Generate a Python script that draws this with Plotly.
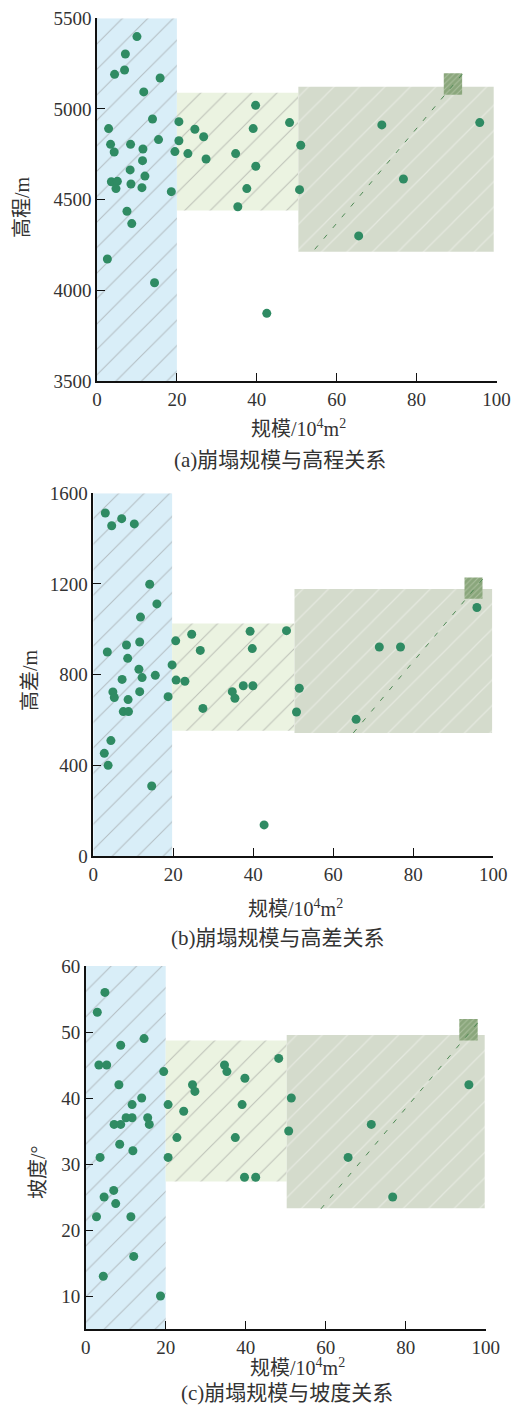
import plotly.graph_objects as go

W, H = 520, 1407

# ---------------- data ----------------
a_x = [10.0, 7.1, 6.9, 4.4, 15.8, 11.7, 13.9, 2.9, 3.4, 4.3, 8.4, 11.5, 15.4, 11.4, 8.3, 12.0, 3.6, 5.1, 4.75, 8.5,
       11.25, 18.6, 7.5, 8.7, 2.6, 14.4, 20.5, 20.5, 19.5, 24.5, 26.7, 22.75, 27.3, 34.7, 39.7, 39.1, 39.75, 37.5,
       35.25, 48.2, 51.0, 50.7, 71.3, 76.7, 65.5, 95.8, 42.5]
a_y = [5399, 5303, 5215, 5191, 5171, 5094, 4945, 4892, 4805, 4763, 4805, 4779, 4831, 4715, 4664, 4630, 4599, 4601,
       4561, 4586, 4566, 4544, 4436, 4368, 4173, 4042, 4930, 4825, 4765, 4888, 4847, 4754, 4724, 4754, 5020, 4892,
       4684, 4561, 4461, 4925, 4800, 4555, 4912, 4614, 4300, 4925, 3873]

b_x = [3.0, 4.6, 7.1, 10.25, 14.1, 15.9, 11.8, 3.5, 8.3, 11.6, 8.6, 11.4, 12.2, 15.5, 7.2, 4.9, 5.25, 8.7, 11.6, 7.5,
       8.8, 18.7, 4.4, 2.75, 3.7, 14.6, 19.7, 20.6, 20.7, 22.9, 24.6, 26.75, 27.4, 34.75, 35.4, 37.5, 39.2, 39.75,
       39.9, 48.3, 51.5, 50.8, 65.7, 71.5, 76.8, 95.9, 42.7]
b_y = [1513, 1457, 1488, 1465, 1199, 1112, 1054, 900, 931, 944, 872, 824, 787, 797, 779, 724, 699, 690, 725, 637,
       637, 703, 509, 453, 400, 309, 843, 949, 776, 771, 978, 907, 651, 725, 696, 751, 991, 915, 751, 994, 740, 635,
       603, 922, 922, 1096, 137]

c_x = [4.8, 2.9, 14.6, 8.75, 3.3, 5.25, 19.5, 8.3, 14.0, 11.6, 10.1, 11.6, 15.5, 7.1, 8.75, 15.9, 8.5, 11.8, 3.6,
       7.0, 4.6, 7.5, 2.7, 11.3, 12.0, 4.4, 18.7, 20.6, 20.6, 22.8, 24.5, 26.7, 27.3, 34.7, 35.3, 37.4, 39.8, 39.1,
       39.7, 42.5, 48.25, 51.4, 50.75, 65.6, 71.4, 76.75, 95.8]
c_y = [56, 53, 49, 48, 45, 45, 44, 42, 40, 39, 37, 37, 37, 36, 36, 36, 33, 32, 31, 26, 25, 24, 22, 22, 16, 13, 10,
       39, 31, 34, 38, 42, 41, 45, 44, 34, 43, 39, 28, 28, 46, 40, 35, 31, 36, 25, 42]

# zones: [x0, x1, y0, y1]
a_zones = [[0, 20, 3500, 5500], [20, 50.4, 4440, 5090], [50.4, 99.3, 4213, 5123], [86.8, 91.4, 5079, 5197]]
a_trend = [[54.5, 91.75], [4226, 5200]]
b_zones = [[0, 19.7, 0, 1600], [19.7, 50.3, 553, 1026], [50.3, 99.7, 543, 1178], [92.8, 97.3, 1135, 1229]]
b_trend = [[65.0, 97.7], [543, 1229]]
c_zones = [[0, 20, 5, 60], [20, 50.25, 27.35, 48.7], [50.25, 99.75, 23.3, 49.56], [93.4, 98.0, 48.7, 51.97]]
c_trend = [[58.8, 99.0], [23.2, 52.1]]

x_ticks = [0, 20, 40, 60, 80, 100]
a_yticks = [3500, 4000, 4500, 5000, 5500]
b_yticks = [0, 400, 800, 1200, 1600]
c_yticks = [10, 20, 30, 40, 50, 60]

panels = [
    dict(x=a_x, y=a_y, zones=a_zones, trend=a_trend, yr=[3500, 5500], yt=a_yticks,
         px=(97, 496.5), py=(18.3, 381),
         ytitle="高程/m", ytpos=(22, 207), xtpos=(298, 428), cap="(a)崩塌规模与高程关系", cappos=(280, 460)),
    dict(x=b_x, y=b_y, zones=b_zones, trend=b_trend, yr=[0, 1600], yt=b_yticks,
         px=(93.3, 493.3), py=(493.3, 856),
         ytitle="高差/m", ytpos=(30, 680), xtpos=(295, 908), cap="(b)崩塌规模与高差关系", cappos=(278, 938)),
    dict(x=c_x, y=c_y, zones=c_zones, trend=c_trend, yr=[5, 60], yt=c_yticks,
         px=(85.7, 485.7), py=(966, 1329),
         ytitle="坡度/°", ytpos=(38, 1172), xtpos=(297, 1367), cap="(c)崩塌规模与坡度关系", cappos=(287, 1393)),
]

FONT = "Liberation Serif, Noto Sans CJK SC, serif"
zone_styles = [
    dict(bg="#d9eef8", fg="#8f8f8f", size=18, sol=0.06),
    dict(bg="#ebf3e1", fg="#8f8f8f", size=18, sol=0.06),
    dict(bg="#d4dbcc", fg="#f4f6f1", size=18, sol=0.07),
    dict(bg="#8aa67c", fg="#c9d6c0", size=4, sol=0.25),
]

fig = go.Figure()
layout = dict(width=W, height=H, margin=dict(l=0, r=0, t=0, b=0, pad=0), autosize=False,
              plot_bgcolor="white", paper_bgcolor="white", showlegend=False,
              font=dict(family=FONT, color="#333"))
annotations = []

for i, p in enumerate(panels):
    k = "" if i == 0 else str(i + 1)
    xa, ya = "x" + k, "y" + k
    for z, st in zip(p["zones"], zone_styles):
        x0, x1, y0, y1 = z
        fig.add_trace(go.Scatter(
            x=[x0, x1, x1, x0, x0], y=[y0, y0, y1, y1, y0], mode="lines", line=dict(width=0),
            fill="toself", fillcolor=st["bg"],
            fillpattern=dict(shape="/", bgcolor=st["bg"], fgcolor=st["fg"], size=st["size"],
                             solidity=st["sol"]),
            xaxis=xa, yaxis=ya, hoverinfo="skip"))
    fig.add_trace(go.Scatter(x=p["trend"][0], y=p["trend"][1], mode="lines",
                             line=dict(color="#4f8a55", width=1, dash="5px,9px"),
                             xaxis=xa, yaxis=ya, hoverinfo="skip"))
    fig.add_trace(go.Scatter(x=p["x"], y=p["y"], mode="markers",
                             marker=dict(color="#2f8b63", size=9, line=dict(width=0)),
                             xaxis=xa, yaxis=ya))
    common = dict(showgrid=False, zeroline=False, showline=True, linecolor="#111", linewidth=1.5,
                  ticks="inside", ticklen=8, tickcolor="#111", tickwidth=1.2, automargin=False,
                  tickfont=dict(family=FONT, size=19, color="#333"))
    layout["xaxis" + k] = dict(range=[0, 100], tickvals=x_ticks, anchor=ya,
                               domain=[p["px"][0] / W, p["px"][1] / W], **common)
    layout["yaxis" + k] = dict(range=p["yr"], tickvals=p["yt"], anchor=xa,
                               domain=[1 - p["py"][1] / H, 1 - p["py"][0] / H], **common)
    annotations.append(dict(text=p["ytitle"], x=p["ytpos"][0] / W, y=1 - p["ytpos"][1] / H, xref="paper",
                            yref="paper", showarrow=False, textangle=-90, xanchor="center", yanchor="middle",
                            font=dict(size=20, color="#333", family=FONT)))
    annotations.append(dict(text="规模/10<sup>4</sup>m<sup>2</sup>", x=p["xtpos"][0] / W, y=1 - p["xtpos"][1] / H,
                            xref="paper", yref="paper", showarrow=False, xanchor="center", yanchor="middle",
                            font=dict(size=20, color="#333", family=FONT)))
    annotations.append(dict(text=p["cap"], x=p["cappos"][0] / W, y=1 - p["cappos"][1] / H,
                            xref="paper", yref="paper", showarrow=False, xanchor="center", yanchor="middle",
                            font=dict(size=21, color="#333", family=FONT)))

layout["annotations"] = annotations
fig.update_layout(**layout)
fig.write_html("out.html",
               post_script="document.body.style.margin='0';document.body.style.overflow='hidden';")
